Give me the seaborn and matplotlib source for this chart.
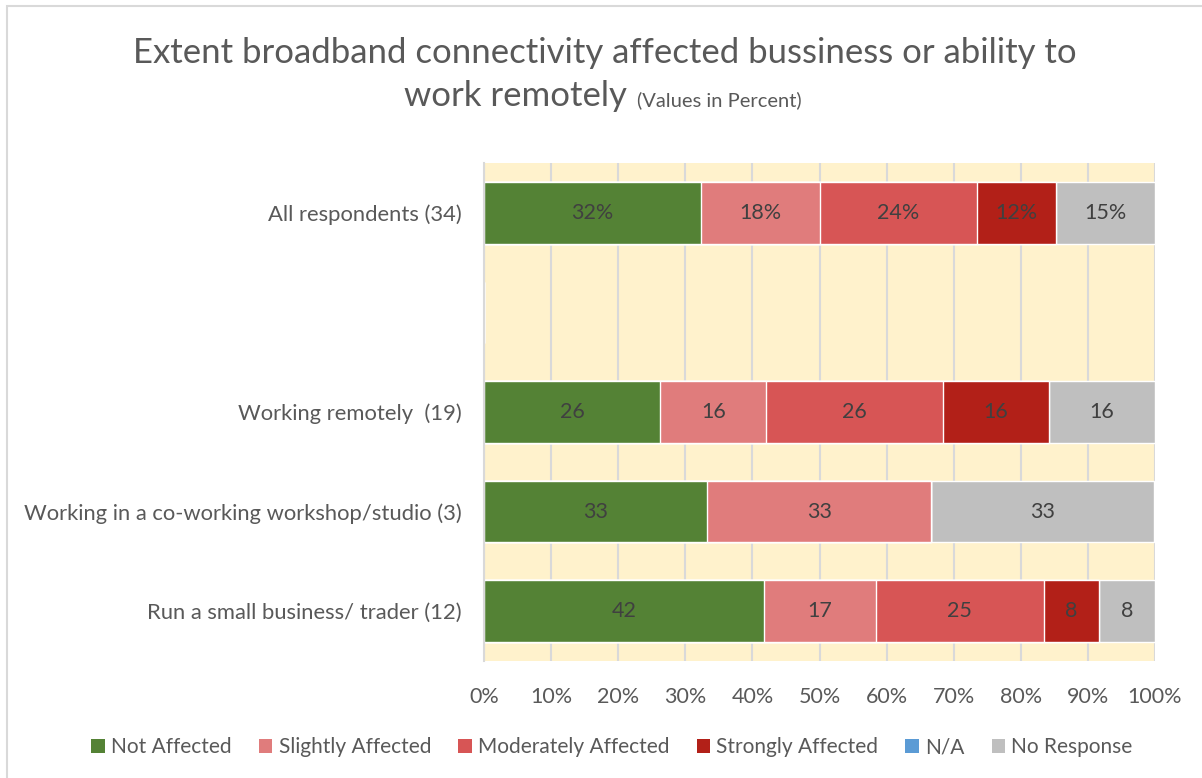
import numpy as np
import pandas as pd
import matplotlib.pyplot as plt
import seaborn as sns
from matplotlib.patches import Patch, Rectangle

# data (percent of respondents in each group)
groups = ['All respondents (34)', ' ', 'Working remotely  (19)',
          'Working in a co-working workshop/studio (3)', 'Run a small business/ trader (12)']
series = ['Not Affected', 'Slightly Affected', 'Moderately Affected',
          'Strongly Affected', 'N/A', 'No Response']
not_affected = [32.4, 0, 26.3, 33.3, 41.7]
slightly = [17.6, 0, 15.8, 33.3, 16.7]
moderately = [23.5, 0, 26.3, 0, 25.0]
strongly = [11.8, 0, 15.8, 0, 8.3]
na = [0, 0, 0, 0, 0]
no_response = [14.7, 0, 15.8, 33.3, 8.3]
labels = [['32%', '18%', '24%', '12%', '', '15%'],
          ['', '', '', '', '', ''],
          ['26', '16', '26', '16', '', '16'],
          ['33', '33', '', '', '', '33'],
          ['42', '17', '25', '8', '', '8']]

colors = ['#548235', '#E07C7C', '#D75555', '#B22018', '#5B9BD5', '#BFBFBF']

df = pd.DataFrame({'group': groups, 'Not Affected': not_affected,
                   'Slightly Affected': slightly, 'Moderately Affected': moderately,
                   'Strongly Affected': strongly, 'N/A': na, 'No Response': no_response})
cum = df[series].cumsum(axis=1)

sns.set_style('white')
plt.rcParams['font.family'] = ['Lato', 'DejaVu Sans']
txt = '#595959'

fig = plt.figure(figsize=(12.02, 7.78), dpi=100)
ax = fig.add_axes([484 / 1202, 1 - 661 / 778, (1155 - 484) / 1202, (661 - 163) / 778])
ax.set_facecolor('#FFF2CC')

# stacked bars: draw cumulative totals from the outside in
for i in range(len(series) - 1, -1, -1):
    d = pd.DataFrame({'group': groups, 'val': cum[series[i]].values})
    sns.barplot(data=d, x='val', y='group', order=groups, color=colors[i],
                orient='h', width=0.62, saturation=1, ax=ax, zorder=2)

# segment labels
for r in range(len(groups)):
    left = 0
    for i, s in enumerate(series):
        w = df[s].iloc[r]
        if labels[r][i]:
            ax.text(left + w / 2, r, labels[r][i], ha='center', va='center',
                    fontsize=15.5, color='#404040', zorder=3)
        left += w

ax.set_xlim(0, 100)
ax.set_ylim(4.5, -0.5)
ax.set_xticks(np.arange(0, 101, 10))
ax.set_xticklabels([f'{v}%' for v in range(0, 101, 10)], fontsize=15.5, color=txt)
ax.tick_params(axis='y', labelsize=15.8, labelcolor=txt, length=0, pad=16)
ax.tick_params(axis='x', length=0, pad=19)
ax.set_xlabel('')
ax.set_ylabel('')
ax.grid(axis='x', color='#D9D9D9', lw=1.5, zorder=0)
ax.set_axisbelow(True)
for sp in ['top', 'right', 'bottom']:
    ax.spines[sp].set_visible(False)
ax.spines['left'].set_color('#D9D9D9')
ax.spines['left'].set_linewidth(1.5)

# title
fig.text(605 / 1202, 1 - 63 / 778, 'Extent broadband connectivity affected bussiness or ability to',
         ha='center', va='baseline', fontsize=25, color=txt)
fig.text(627 / 1202, 1 - 106 / 778, 'work remotely', ha='right', va='baseline',
         fontsize=25, color=txt)
fig.text(637 / 1202, 1 - 106 / 778, '(Values in Percent)', ha='left', va='baseline',
         fontsize=14.5, color=txt)

# legend
handles = [Patch(facecolor=c, edgecolor='none', label=s) for c, s in zip(colors, series)]
fig.legend(handles=handles, loc='center', bbox_to_anchor=(612 / 1202, 1 - 747 / 778),
           ncol=6, frameon=False, fontsize=15, handlelength=0.65, handleheight=0.65,
           handletextpad=0.3, columnspacing=1.3, labelcolor=txt)

# chart border
fig.patches.append(Rectangle((7 / 1202, -0.1), 1.2, 1 - 6 / 778 + 0.1, transform=fig.transFigure,
                             fill=False, edgecolor='#D9D9D9', lw=1.5))

fig.savefig('out.png', dpi=100)
